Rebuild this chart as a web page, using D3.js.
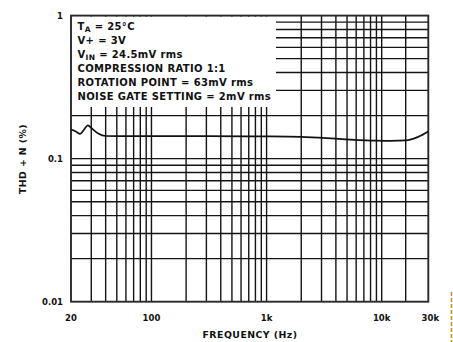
<!DOCTYPE html>
<html>
<head>
<meta charset="utf-8">
<script src="https://cdn.jsdelivr.net/npm/d3@7"></script>
<style>
  html, body { margin: 0; padding: 0; background: #fff; }
  svg { display: block; }
  text { font-family: "DejaVu Sans", sans-serif; font-weight: bold; fill: #111; }
</style>
</head>
<body>
<svg id="chart" width="453" height="342"></svg>
<script>
// THD + N versus frequency
const freqHz = [20, 22, 24, 26, 28, 30.5, 34.5, 40, 60, 100, 300, 1000, 2000, 4500, 9000, 13000, 20000, 25000, 30000];
const thdPct = [0.160, 0.155, 0.149, 0.160, 0.171, 0.162, 0.150, 0.144, 0.1435, 0.1435, 0.1435, 0.143, 0.142, 0.137, 0.1335, 0.133, 0.134, 0.142, 0.155];

// axis ticks and labels
const xTickValues = [20, 100, 1000, 10000, 30000];
const xTickLabels = ["20", "100", "1k", "10k", "30k"];
const yTickValues = [0.01, 0.1, 1];
const yTickLabels = ["0.01", "0.1", "1"];

// grid lines
const xGrid = [30, 40, 50, 60, 70, 80, 90, 100, 200, 300, 400, 500, 600, 700, 800, 900,
               1000, 2000, 3000, 4000, 5000, 6000, 7000, 8000, 9000, 10000, 20000];
const yGrid = [0.02, 0.03, 0.04, 0.05, 0.06, 0.07, 0.08, 0.09,
               0.1, 0.2, 0.3, 0.4, 0.5, 0.6, 0.7, 0.8, 0.9];

// test conditions
const conditions = [
  [["T", ""], ["A", "sub"], [" = 25°C", ""]],
  [["V+ = 3V", ""]],
  [["V", ""], ["IN", "sub"], [" = 24.5mV rms", ""]],
  [["COMPRESSION RATIO 1:1", ""]],
  [["ROTATION POINT = 63mV rms", ""]],
  [["NOISE GATE SETTING = 2mV rms", ""]]
];

const svg = d3.select("#chart");
const plotL = 71, plotR = 428.3, plotT = 15.6, plotB = 301.7;

// the printed frequency grid compresses its last decade
const x = d3.scaleLog()
  .domain([20, 10000, 20000, 30000])
  .range([plotL, 381.7, 405.7, plotR]);
const y = d3.scaleLog()
  .domain([0.01, 1])
  .range([plotB, plotT]);

const grid = svg.append("g").attr("stroke", "#141414").attr("stroke-width", 1.4);

grid.selectAll("line.v").data(xGrid).join("line")
  .attr("class", "v")
  .attr("x1", d => x(d)).attr("x2", d => x(d))
  .attr("y1", plotT).attr("y2", plotB);

grid.selectAll("line.h").data(yGrid).join("line")
  .attr("class", "h")
  .attr("x1", plotL).attr("x2", plotR)
  .attr("y1", d => y(d)).attr("y2", d => y(d));

// blank panel behind the conditions text
svg.append("rect")
  .attr("x", plotL + 1).attr("y", plotT + 1)
  .attr("width", 276 - plotL - 1).attr("height", 107 - plotT - 1)
  .attr("fill", "#fff");

// plot frame
svg.append("rect")
  .attr("x", plotL).attr("y", plotT)
  .attr("width", plotR - plotL).attr("height", plotB - plotT)
  .attr("fill", "none").attr("stroke", "#2a2a2a").attr("stroke-width", 1.9);

// data curve
const pts = freqHz.map((f, i) => [f, thdPct[i]]);
svg.append("path")
  .datum(pts)
  .attr("fill", "none")
  .attr("stroke", "#111")
  .attr("stroke-width", 1.7)
  .attr("d", d3.line().x(d => x(d[0])).y(d => y(d[1])).curve(d3.curveMonotoneX));

// x tick labels
svg.append("g").selectAll("text").data(xTickValues).join("text")
  .attr("x", (d, i) => i === xTickValues.length - 1 ? x(d) + 2 : x(d))
  .attr("y", 320.5)
  .attr("text-anchor", "middle")
  .attr("font-size", 8.5)
  .text((d, i) => xTickLabels[i]);

// y tick labels
svg.append("g").selectAll("text").data(yTickValues).join("text")
  .attr("x", 63)
  .attr("y", d => y(d) + 3.2)
  .attr("text-anchor", "end")
  .attr("font-size", 8.5)
  .text((d, i) => yTickLabels[i]);

// axis titles
svg.append("text")
  .attr("x", 250).attr("y", 338)
  .attr("text-anchor", "middle")
  .attr("font-size", 9.4)
  .attr("letter-spacing", 0.45)
  .text("FREQUENCY (Hz)");

svg.append("text")
  .attr("transform", "translate(26,159) rotate(-90)")
  .attr("text-anchor", "middle")
  .attr("font-size", 9.4)
  .attr("letter-spacing", 0.4)
  .text("THD + N (%)");

// conditions block
const cond = svg.append("g").attr("font-size", 10).attr("letter-spacing", 0.35);
conditions.forEach((parts, i) => {
  const t = cond.append("text").attr("x", 77.5).attr("y", 29.5 + i * 14);
  parts.forEach(([s, kind]) => {
    const ts = t.append("tspan").text(s);
    if (kind === "sub") ts.attr("font-size", 7.5).attr("dy", 2.5);
    else if (t.selectAll("tspan").size() > 1) ts.attr("dy", -2.5);
  });
});

// page-edge rule at far right
svg.append("line")
  .attr("x1", 451.5).attr("x2", 451.5)
  .attr("y1", 292).attr("y2", 342)
  .attr("stroke", "#c8902a").attr("stroke-width", 1.6)
  .attr("stroke-dasharray", "4,2");
</script>
</body>
</html>
